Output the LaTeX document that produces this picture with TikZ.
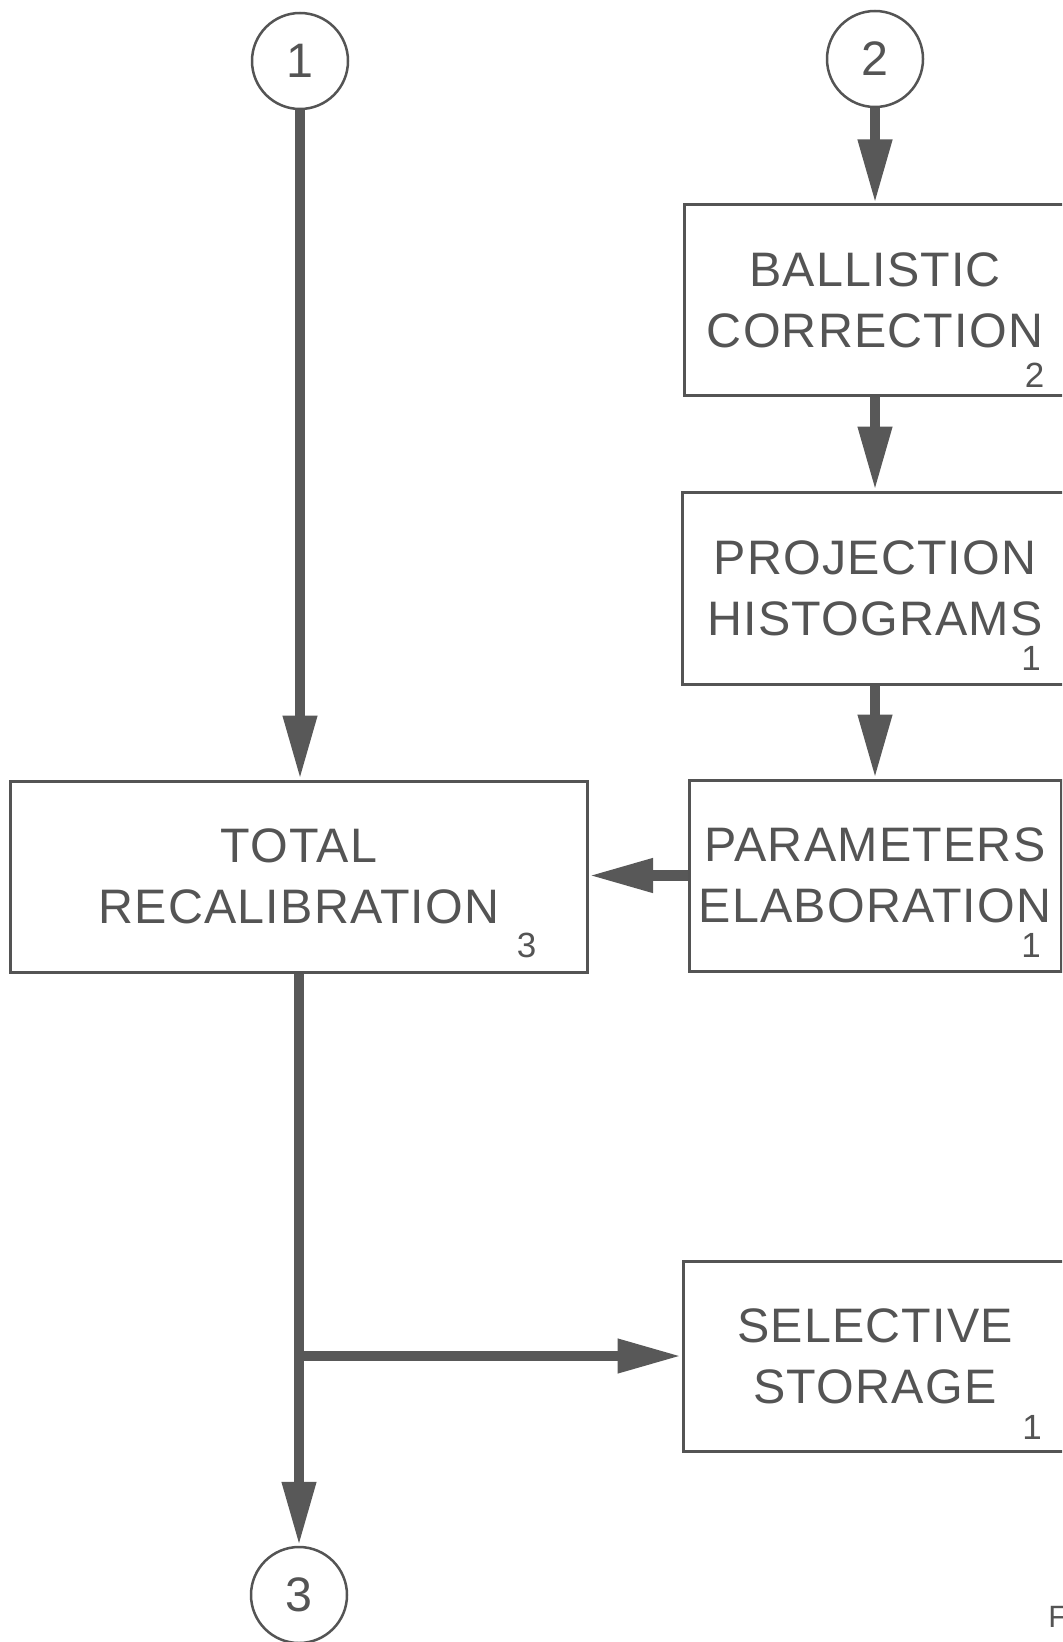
\documentclass[tikz,border=0pt]{standalone}
\usepackage{fontspec}
\setmainfont{Liberation Sans}[LetterSpace=2.5]
\usetikzlibrary{arrows.meta}
\definecolor{ink}{RGB}{84,84,84}
\definecolor{flowgray}{RGB}{88,88,88}
\begin{document}
\begin{tikzpicture}[x=0.5pt,y=-0.5pt,
  stepbox/.style={draw=ink, line width=1.5pt, fill=white, inner sep=0pt,
    align=center, text=ink, font={\fontsize{24.2pt}{30.5pt}\selectfont}},
  connector/.style={draw=ink, line width=1.25pt, circle, inner sep=0pt,
    minimum size=48pt, text=ink, font={\fontsize{24.2pt}{30.5pt}\selectfont}},
  tag/.style={inner sep=0pt, text=ink, font={\fontsize{17.5pt}{20pt}\selectfont}},
  wire/.style={draw=flowgray, line width=5.2pt},
  arr/.style={wire, -{Triangle[length=32pt 0 0, width=16pt 0 0]}}
]
% page frame
\clip (0,0) rectangle (1062,1642);
\fill[white] (0,0) rectangle (1062,1642);

% connectors (off-page references)
\node[connector] (c1) at (300,61) {1};
\node[connector] (c2) at (875,59) {2};
\node[connector] (c3) at (299,1595) {3};

% processing steps
\node[stepbox, minimum width=191pt, minimum height=95pt] (ball) at (875,300)
  {BALLISTIC\\CORRECTION};
\node[stepbox, minimum width=193pt, minimum height=96pt] (proj) at (875,588)
  {PROJECTION\\HISTOGRAMS};
\node[stepbox, minimum width=186pt, minimum height=95.5pt] (par) at (875,875.5)
  {PARAMETERS\\ELABORATION};
\node[stepbox, minimum width=288.5pt, minimum height=95.5pt] (tot) at (299,876.5)
  {TOTAL\\RECALIBRATION};
\node[stepbox, minimum width=192pt, minimum height=95pt] (sel) at (875,1356)
  {SELECTIVE\\STORAGE};

% step counts
\node[tag] (nball) at (1034.5,375.5) {2};
\node[tag] (nproj) at (1031,658) {1};
\node[tag] (npar) at (1031,945) {1};
\node[tag] (ntot) at (526.5,945.5) {3};
\node[tag] (nsel) at (1032,1427.5) {1};

\node[inner sep=0pt, text=ink, anchor=base west,
  font={\fontsize{15.4pt}{18pt}\selectfont}] (fig) at (1048,1627) {F};

% flow
\draw[arr] (c2) -- (ball);
\draw[arr] (ball) -- (proj);
\draw[arr] (proj) -- (par);
\draw[arr] (c1.south) -- (c1.south |- tot.north);
\draw[arr] (par.west) -- (par.west -| tot.east);
\draw[arr] (tot.south) -- (c3.north);
\coordinate (split) at (tot.south |- sel.west);
\draw[arr] (split) -- (sel.west);
\end{tikzpicture}
\end{document}
